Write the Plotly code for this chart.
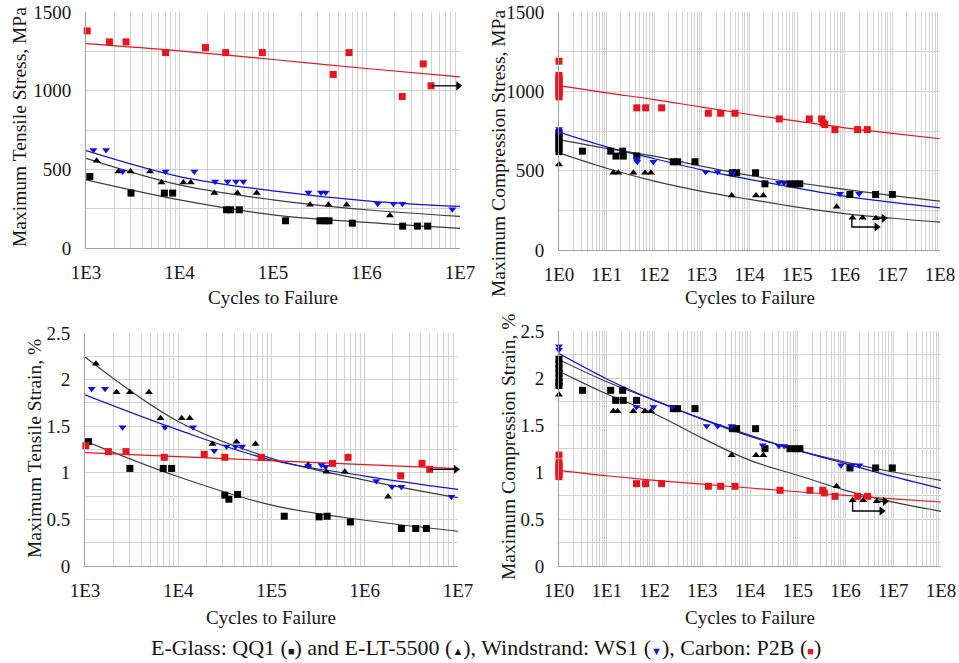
import plotly.graph_objects as go

# ---------------- DATA ----------------
# Panel A: Maximum tensile stress (MPa)
A_qq1_n = [1100, 3030, 6890, 8450, 31900, 35200, 43600, 136000, 318000, 360000, 397000, 705000, 2.44e6, 3.5e6, 4.51e6]
A_qq1_s = [454, 349, 349, 349, 243, 243, 243, 173, 173, 173, 173, 158, 139, 139, 139]
A_elt_n = [1300, 2220, 3000, 4830, 6440, 11000, 13200, 23600, 41600, 66900, 249000, 391000, 614000, 1.78e6]
A_elt_s = [554, 486, 486, 486, 416, 416, 416, 349, 349, 349, 275, 275, 275, 207]
A_ws1_n = [1200, 1640, 2470, 7100, 14400, 24000, 32700, 40200, 48200, 239000, 326000, 366000, 1.32e6, 1.94e6, 2.42e6, 8.28e6]
A_ws1_s = [623, 623, 486, 486, 486, 423, 423, 423, 423, 353, 353, 353, 281, 281, 281, 247]
A_p2b_n = [1030, 1780, 2680, 7110, 19000, 31200, 76900, 441000, 650000, 2.41e6, 4.05e6, 4.9e6]
A_p2b_s = [1380, 1310, 1310, 1242, 1274, 1242, 1242, 1103, 1242, 963, 1170, 1031]
A_fit_n = [1e3, 1e4, 1e5, 1e6, 1e7]
A_fit_qq1 = [433, 306, 211, 163, 125]
A_fit_elt = [570, 401, 306, 243, 201]
A_fit_ws1 = [619, 454, 363, 300, 264]
A_fit_p2b = [1299, 1253, 1198, 1141, 1088]
A_runout = [([4.9e6, 9.6e6], [1031, 1031])]

# Panel B: Maximum compression stress (MPa)
B_qq1_n = [1, 1, 1, 1, 1, 1, 1, 3.1, 12.2, 15.7, 21.7, 22.4, 43, 251, 310, 717, 4350, 5370, 13400, 21100, 70600, 94500, 114000, 1.28e6, 4.45e6, 1e7]
B_qq1_s = [740, 720, 700, 680, 660, 640, 620, 623, 623, 592, 623, 592, 592, 556, 556, 556, 487, 487, 487, 417, 417, 417, 417, 350, 350, 350]
B_elt_n = [1, 13.8, 17.6, 36.5, 64, 85, 4220, 13700, 19500, 675000, 1.46e6, 2.37e6, 4.5e6]
B_elt_s = [539, 487, 487, 487, 487, 487, 344, 344, 344, 273, 203, 203, 200]
B_ws1_n = [1, 1, 43, 44, 96, 1200, 2150, 4500, 41500, 53000, 795000, 2e6]
B_ws1_s = [762, 742, 575, 556, 556, 491, 491, 487, 424, 424, 355, 355]
B_p2b_n = [1, 1, 1, 1, 1, 1, 1, 1, 1, 1, 1, 43, 66, 143, 1365, 2480, 4950, 42300, 180000, 327000, 354000, 382000, 622000, 1.86e6, 2.97e6]
B_p2b_s = [1190, 1100, 1085, 1070, 1055, 1040, 1025, 1010, 995, 980, 965, 896, 896, 896, 862, 862, 862, 826, 826, 826, 801, 791, 759, 759, 759]
B_fit_n = [1, 10, 1e2, 1e3, 1e4, 1e5, 1e6, 1e7, 1e8]
B_fit_qq1 = [696, 640, 592, 528, 470, 424, 382, 343, 308]
B_fit_elt = [612, 515, 434, 370, 319, 270, 229, 200, 176]
B_fit_ws1 = [743, 650, 575, 505, 445, 390, 340, 300, 266]
B_fit_p2b = [1036, 990, 948, 900, 854, 812, 770, 735, 701]
B_runout = [([1.41e6, 1.41e6, 4.66e6], [203, 145, 145]), ([4.5e6, 6.6e6], [200, 200])]

# Panel C: Maximum tensile strain (%)
C_qq1_n = [1090, 3030, 6900, 8490, 31600, 34900, 43300, 137000, 324000, 395000, 701000, 2.47e6, 3.52e6, 4.58e6]
C_qq1_s = [1.334, 1.047, 1.047, 1.047, 0.76, 0.717, 0.768, 0.534, 0.527, 0.534, 0.473, 0.402, 0.402, 0.402]
C_elt_n = [1310, 2180, 3030, 4850, 6460, 10900, 13300, 23300, 42200, 67400, 247000, 388000, 611000, 1.78e6]
C_elt_s = [2.17, 1.865, 1.865, 1.865, 1.585, 1.585, 1.585, 1.309, 1.334, 1.309, 1.083, 1.011, 1.011, 0.742]
C_ws1_n = [1180, 1640, 2530, 7200, 14400, 24300, 33000, 41100, 48500, 247000, 343000, 380000, 1.33e6, 1.96e6, 2.47e6, 8.5e6]
C_ws1_s = [1.901, 1.901, 1.489, 1.489, 1.489, 1.237, 1.281, 1.281, 1.281, 1.072, 1.083, 1.065, 0.911, 0.85, 0.85, 0.742]
C_p2b_n = [1020, 1780, 2750, 7070, 19000, 31600, 78000, 451000, 662000, 2.43e6, 4.11e6, 4.97e6]
C_p2b_s = [1.291, 1.227, 1.227, 1.166, 1.198, 1.166, 1.166, 1.101, 1.166, 0.968, 1.101, 1.037]
C_fit_n = [1e3, 1e4, 1e5, 1e6, 1e7]
C_fit_qq1 = [1.341, 0.958, 0.653, 0.491, 0.373]
C_fit_elt = [2.242, 1.55, 1.155, 0.922, 0.732]
C_fit_ws1 = [1.836, 1.46, 1.137, 0.965, 0.821]
C_fit_p2b = [1.216, 1.173, 1.13, 1.087, 1.044]
C_runout = [([4.97e6, 9.5e6], [1.037, 1.037])]

# Panel D: Maximum compression strain (%)
D_qq1_n = [1, 1, 1, 1, 1, 1, 1, 3.1, 12.1, 15.4, 21.5, 22.2, 42, 248, 305, 705, 4270, 5250, 13100, 20600, 68800, 91800, 111000, 1.24e6, 4.28e6, 9.55e6]
D_qq1_s = [2.2, 2.15, 2.1, 2.05, 2.0, 1.95, 1.92, 1.869, 1.869, 1.762, 1.869, 1.762, 1.762, 1.674, 1.674, 1.674, 1.461, 1.461, 1.461, 1.248, 1.248, 1.248, 1.248, 1.043, 1.043, 1.043]
D_elt_n = [1, 13.7, 16.9, 36, 63, 84.5, 4130, 13400, 19000, 653000, 1.41e6, 2.36e6, 4.5e6]
D_elt_s = [1.823, 1.645, 1.645, 1.645, 1.645, 1.645, 1.177, 1.177, 1.177, 0.848, 0.699, 0.699, 0.688]
D_ws1_n = [1, 1, 42, 95, 236, 1240, 2100, 4130, 18400, 40400, 52000, 805000, 1.39e6, 1.95e6]
D_ws1_s = [2.337, 2.30, 1.691, 1.691, 1.691, 1.489, 1.489, 1.489, 1.284, 1.277, 1.277, 1.071, 1.071, 1.071]
D_p2b_n = [1, 1, 1, 1, 1, 1, 1, 42, 65, 141, 1340, 2430, 4850, 42500, 180000, 333000, 360000, 603000, 1.8e6, 2.91e6]
D_p2b_s = [1.18, 1.10, 1.07, 1.04, 1.01, 0.98, 0.95, 0.876, 0.876, 0.876, 0.848, 0.848, 0.848, 0.805, 0.805, 0.805, 0.777, 0.741, 0.741, 0.741]
D_fit_n = [1, 10, 1e2, 1e3, 1e4, 1e5, 1e6, 1e7, 1e8]
D_fit_qq1 = [2.195, 1.96, 1.762, 1.56, 1.379, 1.23, 1.106, 1.0, 0.911]
D_fit_elt = [2.071, 1.83, 1.62, 1.36, 1.124, 0.965, 0.805, 0.68, 0.582]
D_fit_ws1 = [2.259, 1.99, 1.762, 1.565, 1.39, 1.23, 1.089, 0.95, 0.823]
D_fit_p2b = [1.018, 0.96, 0.911, 0.87, 0.83, 0.79, 0.752, 0.715, 0.681]
D_runout = [([1.41e6, 1.41e6, 5.7e6], [0.699, 0.585, 0.585]), ([4.5e6, 6.7e6], [0.688, 0.688])]

left_ticks = ["1E3", "1E4", "1E5", "1E6", "1E7"]
right_ticks = ["1E0", "1E1", "1E2", "1E3", "1E4", "1E5", "1E6", "1E7", "1E8"]
stress_ticks = [0, 250, 500, 750, 1000, 1250, 1500]
strain_ticks = [0, 0.25, 0.5, 0.75, 1.0, 1.25, 1.5, 1.75, 2.0, 2.25, 2.5]

y_titles = ["Maximum Tensile Stress, MPa", "Maximum Compression Stress, MPa",
            "Maximum Tensile Strain, %", "Maximum Compression Strain, %"]
x_title = "Cycles to Failure"
legend_text = ("E-Glass: QQ1 (<span style='font-size:11px'>■</span>) and E-LT-5500 "
               "(<span style='font-size:11px'>▲</span>), Windstrand: WS1 "
               "(<span style='font-size:11px;color:#1010e0'>▼</span>), Carbon: P2B "
               "(<span style='font-size:11px;color:#e8141e'>■</span>)")

# ---------------- STYLE ----------------
FONT = "Liberation Serif"
BLACK = "#000000"
BLUE = "#1010e0"
RED = "#e8141e"
GRID = "#d2d2d2"
FIT_BLACK = "#3c3c3c"
TXT = "#161616"

fig = go.Figure()

panels = [
    dict(ax="", data=(A_qq1_n, A_qq1_s, A_elt_n, A_elt_s, A_ws1_n, A_ws1_s, A_p2b_n, A_p2b_s),
         fit=(A_fit_n, A_fit_qq1, A_fit_elt, A_fit_ws1, A_fit_p2b), run=A_runout),
    dict(ax="2", data=(B_qq1_n, B_qq1_s, B_elt_n, B_elt_s, B_ws1_n, B_ws1_s, B_p2b_n, B_p2b_s),
         fit=(B_fit_n, B_fit_qq1, B_fit_elt, B_fit_ws1, B_fit_p2b), run=B_runout),
    dict(ax="3", data=(C_qq1_n, C_qq1_s, C_elt_n, C_elt_s, C_ws1_n, C_ws1_s, C_p2b_n, C_p2b_s),
         fit=(C_fit_n, C_fit_qq1, C_fit_elt, C_fit_ws1, C_fit_p2b), run=C_runout),
    dict(ax="4", data=(D_qq1_n, D_qq1_s, D_elt_n, D_elt_s, D_ws1_n, D_ws1_s, D_p2b_n, D_p2b_s),
         fit=(D_fit_n, D_fit_qq1, D_fit_elt, D_fit_ws1, D_fit_p2b), run=D_runout),
]

for p in panels:
    xa, ya = "x" + p["ax"], "y" + p["ax"]
    fn, fq, fe, fw, fp = p["fit"]
    for yv, col in [(fq, FIT_BLACK), (fe, FIT_BLACK), (fw, BLUE), (fp, RED)]:
        fig.add_trace(go.Scatter(x=fn, y=yv, mode="lines", line=dict(color=col, width=1.2, shape="spline"),
                                 xaxis=xa, yaxis=ya, showlegend=False, hoverinfo="skip"))
    qn, qs, en, es, wn, ws, pn, ps = p["data"]
    for xn, yv, sym, col in [(qn, qs, "square", BLACK), (en, es, "triangle-up", BLACK),
                             (wn, ws, "triangle-down", BLUE), (pn, ps, "square", RED)]:
        fig.add_trace(go.Scatter(x=xn, y=yv, mode="markers", cliponaxis=False,
                                 marker=dict(symbol=sym, size=7, color=col, line=dict(width=0)),
                                 xaxis=xa, yaxis=ya, showlegend=False))
    for rx, ry in p["run"]:
        fig.add_trace(go.Scatter(x=rx, y=ry, mode="lines", line=dict(color=BLACK, width=1.3),
                                 xaxis=xa, yaxis=ya, showlegend=False, hoverinfo="skip"))
        fig.add_trace(go.Scatter(x=[rx[-1]], y=[ry[-1]], mode="markers", cliponaxis=False,
                                 marker=dict(symbol="triangle-right", size=8, color=BLACK),
                                 xaxis=xa, yaxis=ya, showlegend=False, hoverinfo="skip"))

W, H = 959, 663

def px_x(v):
    return v / W

def px_y(v):
    return 1 - v / H

def log_ticks(lo, hi, labels):
    vals, txt = [], []
    for d in range(lo, hi + 1):
        for m in range(1, 10):
            if d == hi and m > 1:
                break
            vals.append(m * 10 ** d)
            txt.append(labels[d - lo] if m == 1 else "")
    return vals, txt

def lin_ticks(vals, step):
    return [(f"{v:g}" if abs((v / step) - round(v / step)) < 1e-9 else "") for v in vals]

lv, lt = log_ticks(3, 7, left_ticks)
rv, rt = log_ticks(0, 8, right_ticks)

boxes = {
    "": (86, 460, 12, 248),
    "2": (559, 940, 12, 250),
    "3": (85, 458, 333, 566),
    "4": (559, 941, 331, 566),
}

axis_common = dict(showgrid=True, gridcolor=GRID, gridwidth=1, zeroline=False, showline=True,
                   linecolor="#a0a0a0", linewidth=1, mirror=False, automargin=False,
                   ticks="outside", tickcolor="rgba(0,0,0,0)",
                   tickfont=dict(family=FONT, size=19, color=TXT))

layout = {}
for key, (x0, x1, y0, y1) in boxes.items():
    if key in ("", "3"):
        xv, xt, xr = lv, lt, [3, 7]
    else:
        xv, xt, xr = rv, rt, [0, 8]
    if key in ("", "2"):
        yv, yt, yr = stress_ticks, lin_ticks(stress_ticks, 500), [0, 1500]
    else:
        yv, yt, yr = strain_ticks, lin_ticks(strain_ticks, 0.5), [0, 2.5]
    layout["xaxis" + key] = dict(axis_common, type="log", range=xr, tickvals=xv, ticktext=xt,
                                 domain=[px_x(x0), px_x(x1)], anchor="y" + key, ticklen=7)
    layout["yaxis" + key] = dict(axis_common, range=yr, tickvals=yv, ticktext=yt,
                                 domain=[px_y(y1), px_y(y0)], anchor="x" + key, ticklen=10)

fig.update_layout(**layout)

ann = []
# y titles
for txt, xc, yc in [(y_titles[0], 20, 127), (y_titles[1], 498, 154),
                    (y_titles[2], 34, 449), (y_titles[3], 508, 447)]:
    ann.append(dict(text=txt, x=px_x(xc), y=px_y(yc), xref="paper", yref="paper", showarrow=False,
                    textangle=-90, xanchor="center", yanchor="middle",
                    font=dict(family=FONT, size=19.5, color=TXT)))
# x titles
for xc, yc in [(273, 297), (750, 297), (271, 617), (750, 617)]:
    ann.append(dict(text=x_title, x=px_x(xc), y=px_y(yc), xref="paper", yref="paper", showarrow=False,
                    xanchor="center", yanchor="middle", font=dict(family=FONT, size=19, color=TXT)))
ann.append(dict(text=legend_text, x=px_x(486), y=px_y(647), xref="paper", yref="paper", showarrow=False,
                xanchor="center", yanchor="middle", font=dict(family=FONT, size=22, color=TXT)))

fig.update_layout(width=W, height=H, margin=dict(l=0, r=0, t=0, b=0, autoexpand=False),
                  paper_bgcolor="white", plot_bgcolor="white", annotations=ann, showlegend=False,
                  font=dict(family=FONT))

fig.write_html("out.html")
